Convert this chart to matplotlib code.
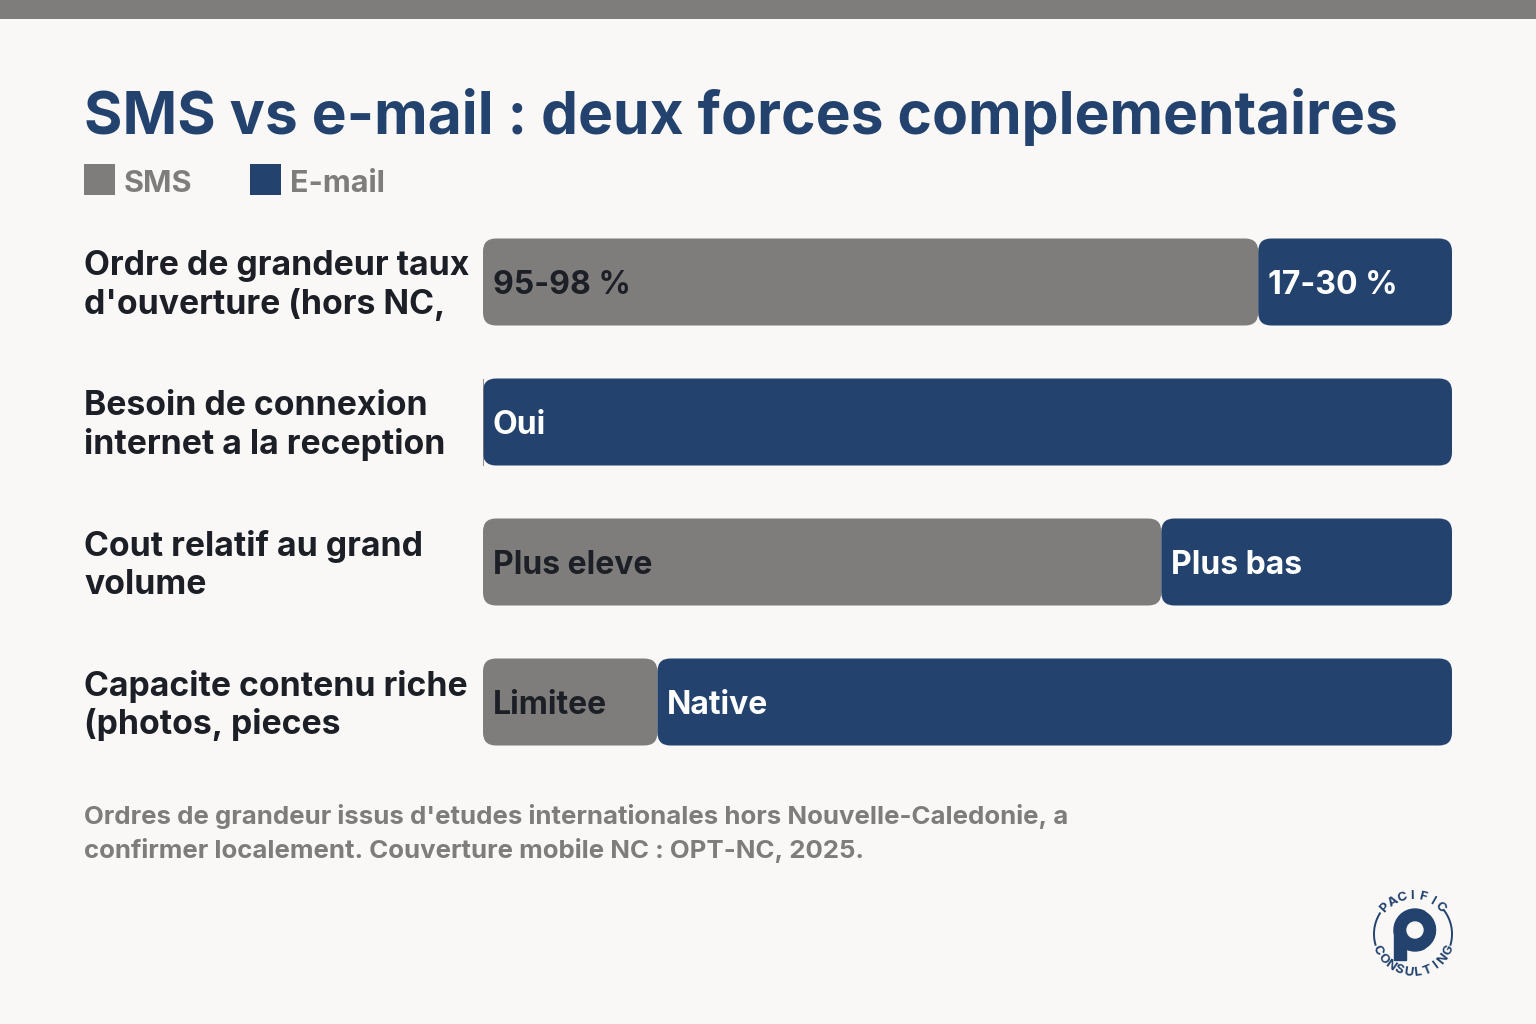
import numpy as np
import matplotlib.pyplot as plt
from matplotlib.patches import FancyBboxPatch, Rectangle, Circle, Wedge
import matplotlib.transforms as mtransforms

plt.rcParams['font.family'] = ['Inter', 'DejaVu Sans']

# data
categories = ["Ordre de grandeur taux\nd'ouverture (hors NC,",
              "Besoin de connexion\ninternet a la reception",
              "Cout relatif au grand\nvolume",
              "Capacite contenu riche\n(photos, pieces"]
sms_share = [80, 0, 70, 18]
email_share = [20, 100, 30, 82]
sms_text = ["95-98 %", "", "Plus eleve", "Limitee"]
email_text = ["17-30 %", "Oui", "Plus bas", "Native"]
series_names = ["SMS", "E-mail"]

GREY = '#7f7d7b'
NAVY = '#23436e'
DARK = '#1c1f26'
BG = '#f9f8f6'

W, H = 1536, 1024
fig = plt.figure(figsize=(W / 100, H / 100), dpi=100, facecolor=BG)

def fx(px):
    return px / W

def fy(py):
    return 1 - py / H

# top band
fig.patches.append(Rectangle((0, fy(19)), 1, 19 / H, transform=fig.transFigure,
                             facecolor=GREY, edgecolor='none'))

# title
fig.text(fx(84), fy(134), "SMS vs e-mail : deux forces complementaires",
         fontsize=42.3, fontweight='bold', color=NAVY, va='baseline', ha='left')

# legend
for i, (name, col) in enumerate(zip(series_names, [GREY, NAVY])):
    x0 = 84 + i * 166
    fig.patches.append(Rectangle((fx(x0), fy(195)), 31 / W, 31 / H,
                                 transform=fig.transFigure, facecolor=col, edgecolor='none'))
    fig.text(fx(x0 + 40), fy(192), name, fontsize=22, fontweight='bold',
             color=GREY, va='baseline', ha='left')

# bar axes
ax_left, ax_right = 483, 1452
ax_top, ax_bot = 212, 772
ax = fig.add_axes([fx(ax_left), fy(ax_bot), (ax_right - ax_left) / W, (ax_bot - ax_top) / H])
ax.set_xlim(0, 100)
n = len(categories)
ax.set_ylim(n - 0.5, -0.5)
ax.axis('off')

px_x = (ax_right - ax_left) / 100.0
px_y = (ax_bot - ax_top) / n
aspect = px_x / px_y
radius = 13 / px_x
bar_h = 87 / px_y

def rbar(x, y, w, col):
    r = min(radius, w / 2)
    p = FancyBboxPatch((x, y - bar_h / 2), w, bar_h,
                       boxstyle=f"round,pad=0,rounding_size={r}",
                       mutation_aspect=aspect, facecolor=col, edgecolor='none')
    ax.add_patch(p)

for i in range(n):
    s, e = sms_share[i], email_share[i]
    if s > 0:
        rbar(0, i, s, GREY)
        ax.annotate(sms_text[i], (0, i), xytext=(7, 0), textcoords='offset points',
                    ha='left', va='center_baseline', fontsize=23, fontweight='bold', color=DARK)
    else:
        ax.plot([0, 0], [i - bar_h / 2, i + bar_h / 2], color=GREY, lw=1.2,
                solid_capstyle='butt')
    rbar(s, i, e, NAVY)
    ax.annotate(email_text[i], (s, i), xytext=(7, 0), textcoords='offset points',
                ha='left', va='center_baseline', fontsize=23, fontweight='bold', color='white')

# category labels
trans = mtransforms.blended_transform_factory(fig.transFigure, ax.transData)
trans = mtransforms.offset_copy(trans, fig=fig, x=0, y=-2.5, units='points')
for i, lab in enumerate(categories):
    fig.text(fx(84), i, lab, transform=trans, ha='left', va='center',
             fontsize=24.3, fontweight='bold', color=DARK, linespacing=1.21)

# footnote
fig.text(fx(84), fy(824), "Ordres de grandeur issus d'etudes internationales hors Nouvelle-Caledonie, a",
         fontsize=18.6, fontweight='bold', color=GREY, va='baseline')
fig.text(fx(84), fy(858), "confirmer localement. Couverture mobile NC : OPT-NC, 2025.",
         fontsize=18.6, fontweight='bold', color=GREY, va='baseline')

# logo
cx, cy = 1413, 934
lg = fig.add_axes([fx(cx - 50), fy(cy + 50), 100 / W, 100 / H])
lg.set_xlim(-50, 50)
lg.set_ylim(-50, 50)
lg.set_aspect('equal')
lg.axis('off')
R = 39
th = np.linspace(np.radians(148), np.radians(196), 40)
lg.plot(R * np.cos(th), R * np.sin(th), color=NAVY, lw=1.4)
th = np.linspace(np.radians(-16), np.radians(38), 40)
lg.plot(R * np.cos(th), R * np.sin(th), color=NAVY, lw=1.4)
for txt, a0, a1, up in [("PACIFIC", 137, 45, True), ("CONSULTING", 205, 335, False)]:
    angs = np.linspace(a0, a1, len(txt))
    for ch, a in zip(txt, angs):
        rr = 38 if up else 39
        x, y = rr * np.cos(np.radians(a)), rr * np.sin(np.radians(a))
        rot = a - 90 if up else a + 90
        lg.text(x, y, ch, rotation=rot, ha='center', va='center', fontsize=9.5,
                fontweight='bold', color=NAVY)
lg.add_patch(Circle((2, 4), 21, color=NAVY))
lg.add_patch(Rectangle((-19, -26), 12, 30, color=NAVY))
lg.add_patch(Circle((2, 4), 8, color=BG))
lg.add_patch(Wedge((2, 4), 24, -60, 60, width=2, color=BG))

fig.savefig('out.png', dpi=100, facecolor=BG)
